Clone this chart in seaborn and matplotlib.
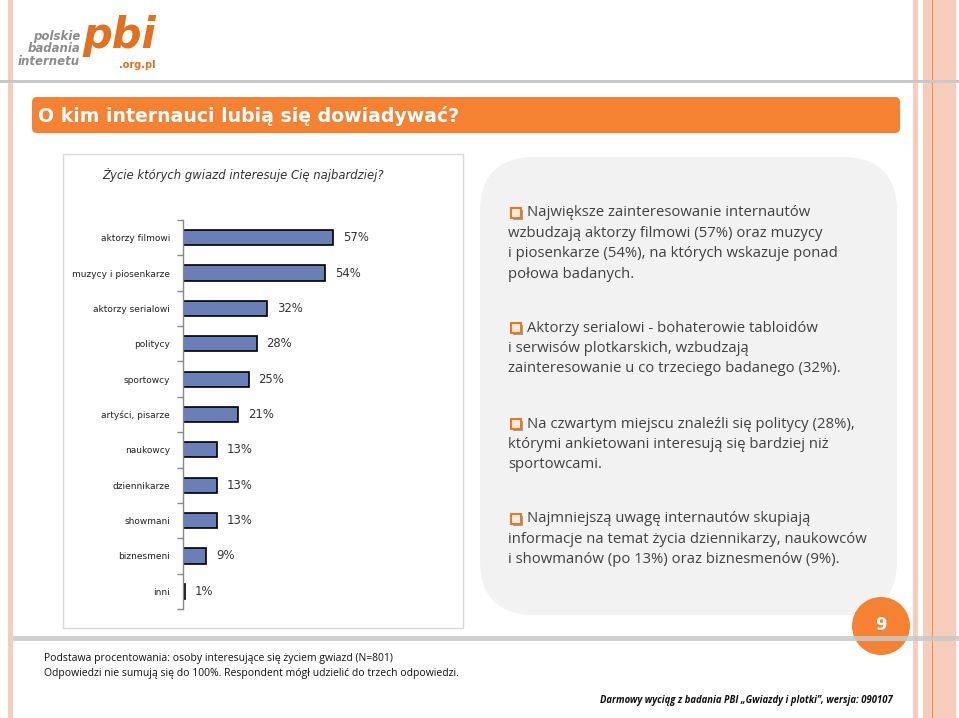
import matplotlib
matplotlib.use("Agg")
import matplotlib.pyplot as plt
from matplotlib.patches import Rectangle, FancyBboxPatch, Circle
import seaborn as sns
import pandas as pd

# data
categories = ["aktorzy filmowi", "muzycy i piosenkarze", "aktorzy serialowi", "politycy",
              "sportowcy", "artyści, pisarze", "naukowcy", "dziennikarze", "showmani",
              "biznesmeni", "inni"]
values = [57, 54, 32, 28, 25, 21, 13, 13, 13, 9, 1]
value_labels = [f"{v}%" for v in values]

slide_title = "O kim internauci lubią się dowiadywać?"
chart_title = "Życie których gwiazd interesuje Cię najbardziej?"
notes = [
    ["Największe zainteresowanie internautów",
     "wzbudzają aktorzy filmowi (57%) oraz muzycy",
     "i piosenkarze (54%), na których wskazuje ponad",
     "połowa badanych."],
    ["Aktorzy serialowi - bohaterowie tabloidów",
     "i serwisów plotkarskich, wzbudzają",
     "zainteresowanie u co trzeciego badanego (32%)."],
    ["Na czwartym miejscu znaleźli się politycy (28%),",
     "którymi ankietowani interesują się bardziej niż",
     "sportowcami."],
    ["Najmniejszą uwagę internautów skupiają",
     "informacje na temat życia dziennikarzy, naukowców",
     "i showmanów (po 13%) oraz biznesmenów (9%)."],
]
footnote = ["Podstawa procentowania: osoby interesujące się życiem gwiazd (N=801)",
            "Odpowiedzi nie sumują się do 100%. Respondent mógł udzielić do trzech odpowiedzi."]
source = "Darmowy wyciąg z badania PBI „Gwiazdy i plotki”, wersja: 090107"
page_no = "9"

df = pd.DataFrame({"kategoria": categories, "proc": values})

sns.set_theme(style="white")
plt.rcParams["font.family"] = ["DejaVu Sans"]

ORANGE = "#F58233"
STRIPE = "#F6CDBB"
W, H = 959, 718
fig = plt.figure(figsize=(W / 100, H / 100), dpi=100)

# background canvas in pixel coordinates
bg = fig.add_axes([0, 0, 1, 1])
bg.set_xlim(0, W)
bg.set_ylim(H, 0)
bg.axis("off")

# decorative stripes
bg.add_patch(Rectangle((8, 0), 5, H, color=STRIPE, lw=0))
bg.add_patch(Rectangle((913, 0), 5, H, color=STRIPE, lw=0))
bg.add_patch(Rectangle((923, 0), 33, H, color=STRIPE, lw=0))
bg.add_patch(Rectangle((931.5, 0), 1.5, H, color="#F08C50", lw=0))
bg.add_patch(Rectangle((0, 80), W, 3, color="#C8C8C8", lw=0, zorder=3))

# logo
for i, w in enumerate(["polskie", "badania", "internetu"]):
    bg.text(80, 40 + i * 12.5, w, ha="right", va="baseline", fontsize=8.5,
            fontweight="bold", style="italic", color="#8C8C8C")
bg.text(82, 48, "pbi", ha="left", va="baseline", fontsize=30, fontweight="bold",
        style="italic", color="#E2701E")
bg.text(119, 68, ".org.pl", ha="left", va="baseline", fontsize=7, fontweight="bold",
        color="#E2701E")

# title bar
bg.add_patch(FancyBboxPatch((32, 97), 868, 36, boxstyle="round,pad=0,rounding_size=5",
                            color=ORANGE, lw=0))
bg.text(38, 115.5, slide_title, ha="left", va="center", fontsize=13.6, fontweight="bold",
        color="white")

# chart frame
bg.add_patch(Rectangle((63, 154), 400, 474, fill=False, ec="#D9D9D9", lw=1))
bg.text(102, 175, chart_title, ha="left", va="center", fontsize=8.4, style="italic",
        color="#333333")

# notes panel
bg.add_patch(FancyBboxPatch((480, 157), 417, 458, boxstyle="round,pad=0,rounding_size=55",
                            color="#F2F2F2", lw=0))
block_tops = [213, 328, 424, 519]
for top, lines in zip(block_tops, notes):
    bg.add_patch(Rectangle((512.5, top - 3.5), 10, 10, color="#A0A0A0", lw=0))
    bg.add_patch(Rectangle((510.5, top - 5.5), 10, 10, fc="#FBEBDD", ec="#E07B2A", lw=1.5))
    for j, line in enumerate(lines):
        x = 527 if j == 0 else 508
        bg.text(x, top + j * 20.4, line, ha="left", va="center", fontsize=10.7,
                family="Open Sans", color="#404040")

# page number and footer
bg.add_patch(Circle((881, 626), 29, color=ORANGE, lw=0))
bg.text(881, 625, page_no, ha="center", va="center", fontsize=12, fontweight="bold",
        color="white")
bg.add_patch(Rectangle((13, 636), W - 13, 5, color="#C8C8C8", lw=0, alpha=0.85))
for i, line in enumerate(footnote):
    bg.text(44, 658 + i * 15.5, line, ha="left", va="center", fontsize=7.5,
            family="Open Sans", color="#111111")
bg.text(893, 701, source, ha="right", va="center", fontsize=6.85, family="Open Sans",
        fontweight="bold", style="italic", color="#111111")

# bar chart
x0, x1, ytop, ybot = 182.7, 462.7, 220, 609
ax = fig.add_axes([x0 / W, 1 - ybot / H, (x1 - x0) / W, (ybot - ytop) / H])
ax.patch.set_alpha(0)
sns.barplot(data=df, x="proc", y="kategoria", orient="h", color="#6A7EB8",
            edgecolor="black", linewidth=1.2, width=0.43, saturation=1, ax=ax)
ax.bar_label(ax.containers[0], labels=value_labels, padding=7, fontsize=8.4,
             color="#333333")
ax.set_xlim(0, 106)
ax.set_ylim(len(categories) - 0.5, -0.5)
ax.set_xlabel("")
ax.set_ylabel("")
ax.set_xticks([])
for s in ["top", "right", "bottom"]:
    ax.spines[s].set_visible(False)
ax.spines["left"].set_color("#888888")
ax.spines["left"].set_linewidth(1)
ax.set_yticks([i - 0.5 for i in range(len(categories) + 1)], minor=True)
ax.tick_params(axis="y", which="minor", left=True, length=4, color="#888888", width=1)
ax.tick_params(axis="y", which="major", left=False, length=0, pad=9,
               labelsize=6.5, labelcolor="#222222")

fig.savefig("out.png", dpi=100)
